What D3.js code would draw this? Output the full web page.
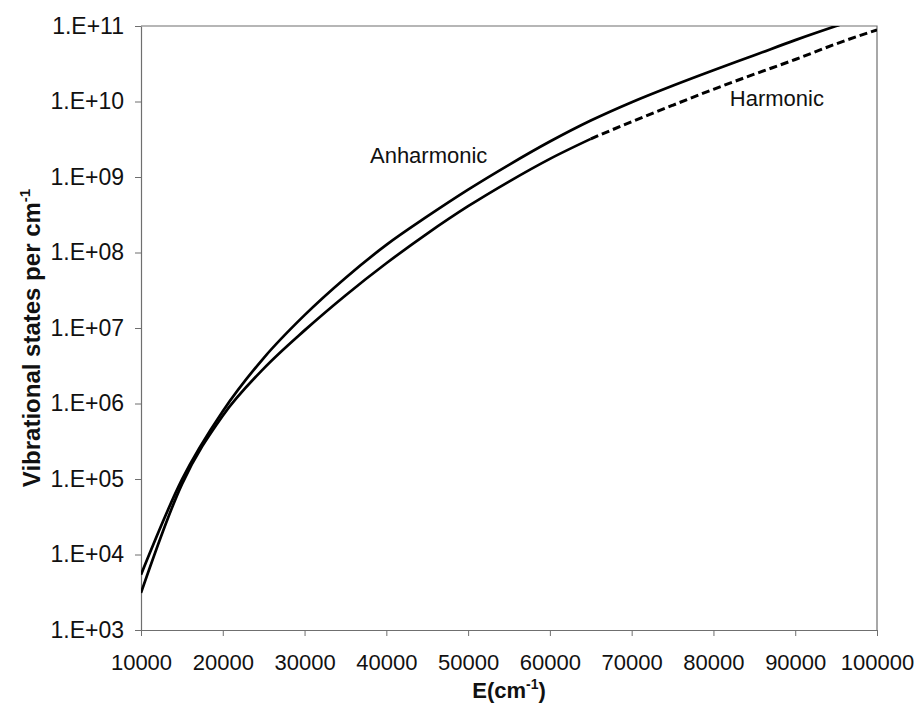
<!DOCTYPE html>
<html>
<head>
<meta charset="utf-8">
<script src="https://cdn.jsdelivr.net/npm/d3@7"></script>
<style>
  html, body { margin: 0; padding: 0; background: #fff; }
  svg { display: block; font-family: "Liberation Sans", Arial, sans-serif; }
</style>
</head>
<body>
<svg id="chart" width="915" height="707"></svg>
<script>
// Energy grid (cm^-1)
const energies = [10000, 15000, 20000, 25000, 30000, 35000, 40000, 45000, 50000, 55000,
                  60000, 65000, 70000, 75000, 80000, 85000, 90000, 95000, 100000];

// Vibrational state densities (states per cm^-1)
const anharmonic = [5.4e3, 9.8e4, 7.9e5, 4.0e6, 1.48e7, 4.6e7, 1.26e8, 3.0e8, 6.8e8, 1.45e9,
                    2.95e9, 5.6e9, 9.8e9, 1.62e10, 2.6e10, 4.1e10, 6.5e10, 1.0e11, 1.5e11];
const harmonic   = [3.1e3, 8.5e4, 6.9e5, 2.9e6, 9.3e6, 2.7e7, 7.2e7, 1.78e8, 4.1e8, 8.7e8,
                    1.74e9, 3.2e9, 5.4e9, 8.9e9, 1.45e10, 2.3e10, 3.6e10, 5.8e10, 8.9e10];
// harmonic curve is drawn dashed from this energy on
const harmonicDashFrom = 65000;

const xTicks = [10000, 20000, 30000, 40000, 50000, 60000, 70000, 80000, 90000, 100000];
const yTicks = [1e3, 1e4, 1e5, 1e6, 1e7, 1e8, 1e9, 1e10, 1e11];
const yTickLabels = ["1.E+03", "1.E+04", "1.E+05", "1.E+06", "1.E+07", "1.E+08", "1.E+09", "1.E+10", "1.E+11"];

const margin = { left: 141, right: 38, top: 26, bottom: 77 };
const W = 915, H = 707;
const iw = W - margin.left - margin.right;
const ih = H - margin.top - margin.bottom;

const svg = d3.select("#chart");
const g = svg.append("g").attr("transform", `translate(${margin.left},${margin.top})`);

const x = d3.scaleLinear().domain([10000, 100000]).range([0, iw]);
const y = d3.scaleLog().domain([1e3, 1e11]).range([ih, 0]);

svg.append("defs").append("clipPath").attr("id", "plot-clip")
  .append("rect").attr("width", iw).attr("height", ih);

const axisColor = "#6f6f6f";
const font = "'Liberation Sans', Arial, sans-serif";

// axes
const xAxis = g.append("g").attr("transform", `translate(0,${ih})`)
  .call(d3.axisBottom(x).tickValues(xTicks).tickFormat(d3.format("d")).tickSize(6).tickSizeOuter(0));
xAxis.selectAll("text").attr("dy", null).attr("y", 40).style("font-size", "22px");

const yAxis = g.append("g")
  .call(d3.axisLeft(y).tickValues(yTicks).tickFormat((d, i) => yTickLabels[i]).tickSize(6).tickSizeOuter(0).tickPadding(11));
yAxis.selectAll("text").style("font-size", "23px");

[xAxis, yAxis].forEach(a => {
  a.select(".domain").attr("stroke", axisColor).attr("stroke-width", 1.2);
  a.selectAll(".tick line").attr("stroke", axisColor).attr("stroke-width", 1);
  a.selectAll("text").attr("fill", "#111").style("font-family", font);
});

// top and right frame
g.append("path")
  .attr("d", `M0,0H${iw}V${ih}`)
  .attr("fill", "none").attr("stroke", axisColor).attr("stroke-width", 1.2);

// curves
const pts = vals => energies.map((e, i) => ({ e, v: vals[i] }));
const line = d3.line().x(d => x(d.e)).y(d => y(d.v)).curve(d3.curveMonotoneX);

const plot = g.append("g").attr("clip-path", "url(#plot-clip)");

plot.append("path").datum(pts(anharmonic))
  .attr("d", line).attr("fill", "none").attr("stroke", "#000").attr("stroke-width", 2.7);

const harm = pts(harmonic);
plot.append("path").datum(harm.filter(d => d.e <= harmonicDashFrom))
  .attr("d", line).attr("fill", "none").attr("stroke", "#000").attr("stroke-width", 2.7);
plot.append("path").datum(harm.filter(d => d.e >= harmonicDashFrom))
  .attr("d", line).attr("fill", "none").attr("stroke", "#000").attr("stroke-width", 3)
  .attr("stroke-dasharray", "8,4");

// series labels
g.append("text").attr("x", x(38000)).attr("y", y(1e9) - 14)
  .style("font-size", "22px").attr("fill", "#111").text("Anharmonic");
g.append("text").attr("x", x(82000)).attr("y", y(1e10) + 4.5)
  .style("font-size", "22px").attr("fill", "#111").text("Harmonic");

// axis titles
const xt = svg.append("text").attr("x", margin.left + iw / 2).attr("y", 698)
  .attr("text-anchor", "middle").style("font-size", "22px").style("font-weight", "bold").attr("fill", "#111");
xt.append("tspan").text("E(cm");
xt.append("tspan").attr("dy", -9).style("font-size", "14px").text("-1");
xt.append("tspan").attr("dy", 9).text(")");

const yt = svg.append("text")
  .attr("transform", `translate(40,${margin.top + ih / 2 + 10}) rotate(-90)`)
  .attr("text-anchor", "middle").style("font-size", "24px").style("font-weight", "bold").attr("fill", "#111");
yt.append("tspan").text("Vibrational states per cm");
yt.append("tspan").attr("dy", -10).style("font-size", "15px").text("-1");
</script>
</body>
</html>
